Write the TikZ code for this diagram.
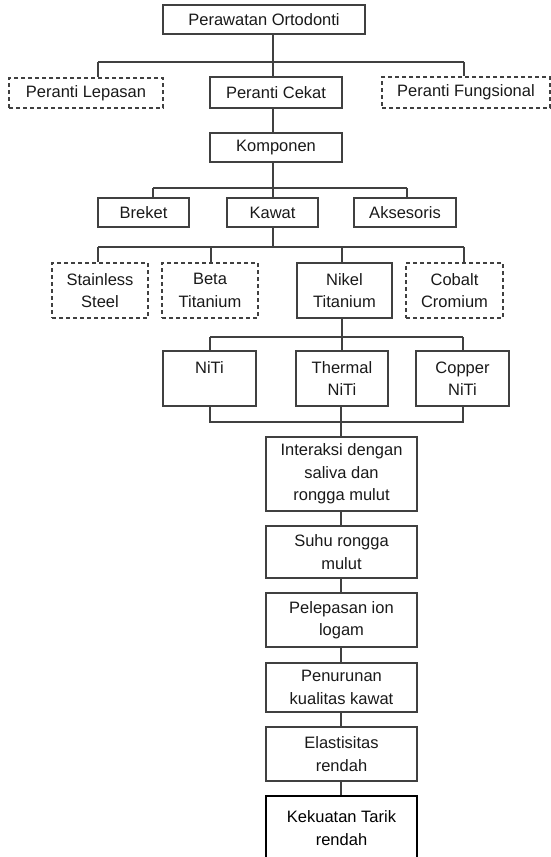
\documentclass[tikz,border=0pt]{standalone}
\usepackage{fontspec}
\setmainfont{Liberation Sans}
\usetikzlibrary{calc}
\tikzset{
	box/.style={draw=black!75, line width=1.2pt, inner sep=0pt, align=center, text=black!90},
	dbox/.style={box, dash pattern=on 4pt off 3pt},
	wire/.style={draw=black!75, line width=1.2pt},
	endbox/.style={box, draw=black, line width=2.4pt, text=black}
}

\begin{document}
\begin{tikzpicture}[x=1pt, y=-1pt, font=\fontsize{16.5}{22.5}\selectfont]
			%%%%% START %%%%%
			\useasboundingbox (0, 0) rectangle (551, 857);
			
			\node[box, minimum width=202pt, minimum height=29pt] (ortho) at (264, 19.5) {Perawatan Ortodonti};
			
			\node[dbox, minimum width=154pt, minimum height=30pt] (lepasan) at (86, 93) {Peranti Lepasan};
			\node[box, minimum width=132pt, minimum height=31pt] (cekat) at (276, 92.5) {Peranti Cekat};
			\node[dbox, minimum width=168pt, minimum height=31pt] (fungsi) at (466, 92.5) {Peranti Fungsional};
			
			\node[box, minimum width=132pt, minimum height=29pt] (komp) at (276, 147.5) {Komponen};
			
			\node[box, minimum width=91pt, minimum height=29pt] (breket) at (143.5, 212.5) {Breket};
			\node[box, minimum width=91pt, minimum height=29pt] (kawat) at (272.5, 212.5) {Kawat};
			\node[box, minimum width=102pt, minimum height=29pt] (akses) at (405, 212.5) {Aksesoris};
			
			\node[dbox, minimum width=96pt, minimum height=55pt] (stain) at (100, 290.5) {Stainless\\Steel};
			\node[dbox, minimum width=96pt, minimum height=55pt] (beta) at (210, 290.5) {Beta\\Titanium};
			\node[box, minimum width=95pt, minimum height=55pt] (nikel) at (344.5, 290.5) {Nikel\\Titanium};
			\node[dbox, minimum width=97pt, minimum height=55pt] (cobalt) at (454.5, 290.5) {Cobalt\\Cromium};
			
			\node[box, minimum width=93pt, minimum height=55pt] (niti) at (209.5, 378.5) {NiTi\\\phantom{NiTi}};
			\node[box, minimum width=92pt, minimum height=55pt] (thermal) at (342, 378.5) {Thermal\\NiTi};
			\node[box, minimum width=93pt, minimum height=55pt] (copper) at (462.5, 378.5) {Copper\\NiTi};
			
			\node[box, minimum width=151pt, minimum height=74pt] (interaksi) at (341.5, 474) {Interaksi dengan\\saliva dan\\rongga mulut};
			\node[box, minimum width=151pt, minimum height=52pt] (suhu) at (341.5, 552) {Suhu rongga\\mulut};
			\node[box, minimum width=151pt, minimum height=54pt] (ion) at (341.5, 620) {Pelepasan ion\\logam};
			\node[box, minimum width=151pt, minimum height=49pt] (turun) at (341.5, 687.5) {Penurunan\\kualitas kawat};
			\node[box, minimum width=151pt, minimum height=54pt] (elast) at (341.5, 754) {Elastisitas\\rendah};
			\node[endbox, minimum width=151pt, minimum height=64pt] (tarik) at (341.5, 828) {Kekuatan Tarik\\rendah};
			
			% first level
			\coordinate (a0) at (273, 62);
			\coordinate (a1) at (98, 62);
			\coordinate (a2) at (464, 62);
			\draw[wire] (ortho.south -| a0) -- (cekat.north -| a0);
			\draw[wire] (a1) -- (a2);
			\draw[wire] (a1) -- (a1 |- lepasan.north);
			\draw[wire] (a2) -- (a2 |- fungsi.north);
			\draw[wire] (cekat.south -| a0) -- (komp.north -| a0);
			
			% komponen
			\coordinate (b1) at (153, 188);
			\coordinate (b2) at (407, 188);
			\draw[wire] (komp.south -| a0) -- (kawat.north -| a0);
			\draw[wire] (b1) -- (b2);
			\draw[wire] (b1) -- (b1 |- breket.north);
			\draw[wire] (b2) -- (b2 |- akses.north);
			
			% kawat
			\coordinate (c0) at (273, 247);
			\coordinate (c1) at (98, 247);
			\coordinate (c2) at (211, 247);
			\coordinate (c3) at (342, 247);
			\coordinate (c4) at (464, 247);
			\draw[wire] (kawat.south -| c0) -- (c0);
			\draw[wire] (c1) -- (c4);
			\draw[wire] (c1) -- (c1 |- stain.north);
			\draw[wire] (c2) -- (c2 |- beta.north);
			\draw[wire] (c3) -- (c3 |- nikel.north);
			\draw[wire] (c4) -- (c4 |- cobalt.north);
			
			% nikel titanium
			\coordinate (d0) at (342, 337);
			\coordinate (d1) at (210, 337);
			\coordinate (d2) at (463, 337);
			\draw[wire] (nikel.south -| d0) -- (d0);
			\draw[wire] (d1) -- (d2);
			\draw[wire] (d1) -- (d1 |- niti.north);
			\draw[wire] (d0) -- (d0 |- thermal.north);
			\draw[wire] (d2) -- (d2 |- copper.north);
			
			\coordinate (e0) at (341, 422);
			\coordinate (e1) at (210, 422);
			\coordinate (e2) at (463, 422);
			\draw[wire] (e1 |- niti.south) -- (e1) -- (e2) -- (e2 |- copper.south);
			\draw[wire] (e0 |- thermal.south) -- (e0 |- interaksi.north);
			
			% chain
			\draw[wire] (e0 |- interaksi.south) -- (e0 |- suhu.north);
			\draw[wire] (e0 |- suhu.south) -- (e0 |- ion.north);
			\draw[wire] (e0 |- ion.south) -- (e0 |- turun.north);
			\draw[wire] (e0 |- turun.south) -- (e0 |- elast.north);
			\draw[wire] (e0 |- elast.south) -- (e0 |- tarik.north);
			
			%%%%% END %%%%%
\end{tikzpicture}
\end{document}
